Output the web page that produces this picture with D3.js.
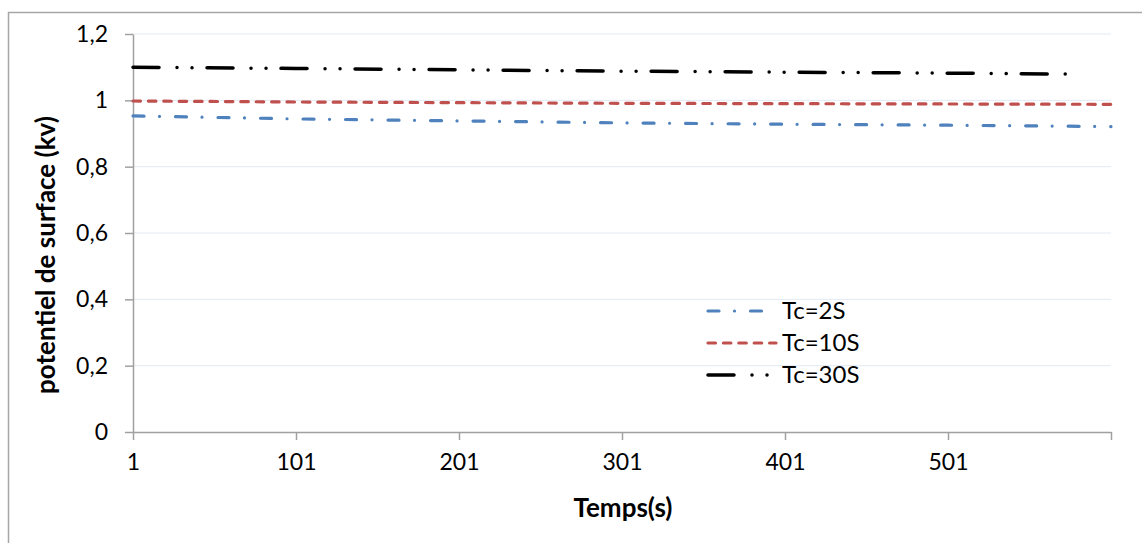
<!DOCTYPE html>
<html><head><meta charset="utf-8">
<script src="https://cdn.jsdelivr.net/npm/d3@7"></script>
<style>
html,body{margin:0;padding:0;background:#fff;}
text{font-family:Lato,"Open Sans",sans-serif;fill:#000;}
</style></head>
<body><svg id="c" width="1142" height="543"></svg>
<script>
// ---- data ----
const times = [1, 101, 201, 301, 401, 501, 601];
const tc2 = [0.953, 0.944, 0.938, 0.932, 0.928, 0.925, 0.921];
const tc10 = [0.998, 0.995, 0.993, 0.991, 0.990, 0.989, 0.988];
const times30 = [1, 101, 201, 301, 401, 501, 575];
const tc30 = [1.100, 1.096, 1.092, 1.088, 1.085, 1.082, 1.079];
const seriesNames = ["Tc=2S", "Tc=10S", "Tc=30S"];
const yTicks = [0, 0.2, 0.4, 0.6, 0.8, 1, 1.2];
const xTicks = [1, 101, 201, 301, 401, 501, 601];
const xTickLabels = ["1", "101", "201", "301", "401", "501", ""];

const svg = d3.select("#c");
const x = d3.scaleLinear().domain([1, 601]).range([133, 1111]);
const y = d3.scaleLinear().domain([0, 1.2]).range([432, 34]);

// outer frame
svg.append("rect").attr("x", 8.5).attr("y", 12.5).attr("width", 1300).attr("height", 700)
  .attr("fill", "none").attr("stroke", "#a6a6a6").attr("stroke-width", 1.5);

// gridlines
svg.append("g").selectAll("line").data(yTicks.filter(d => d > 0)).join("line")
  .attr("x1", x(1)).attr("x2", x(601)).attr("y1", d => y(d)).attr("y2", d => y(d))
  .attr("stroke", "#e3eaf4").attr("stroke-width", 1);

const fmtY = d => String(+d.toFixed(1)).replace(".", ",");

const gy = svg.append("g").attr("transform", `translate(${x(1)},0)`)
  .call(d3.axisLeft(y).tickValues(yTicks).tickFormat(fmtY).tickSize(8).tickSizeOuter(0).tickPadding(17));
const gx = svg.append("g").attr("transform", `translate(0,${y(0)})`)
  .call(d3.axisBottom(x).tickValues(xTicks).tickFormat((d, i) => xTickLabels[i]).tickSize(8).tickSizeOuter(0).tickPadding(14));
[gy, gx].forEach(g => {
  g.select(".domain").attr("stroke", "#a0a0a0").attr("stroke-width", 1.5);
  g.selectAll(".tick line").attr("stroke", "#a0a0a0").attr("stroke-width", 1.5);
  g.selectAll(".tick text").attr("font-size", 23).attr("font-family", "Lato").attr("fill", "#000");
});

const styles = [
  {color: "#4f81bd", width: 3.2, dash: "11,15.5,0.01,16"},
  {color: "#c0504d", width: 3.2, dash: "7.5,7.9"},
  {color: "#000000", width: 3.5, dash: "26,18,0.01,15,0.01,15"}
];
const series = [
  times.map((t, i) => [t, tc2[i]]),
  times.map((t, i) => [t, tc10[i]]),
  times30.map((t, i) => [t, tc30[i]])
];
const line = d3.line().x(d => x(d[0])).y(d => y(d[1]));
series.forEach((s, i) => {
  svg.append("path").attr("d", line(s)).attr("fill", "none")
    .attr("stroke", styles[i].color).attr("stroke-width", styles[i].width)
    .attr("stroke-dasharray", styles[i].dash).attr("stroke-linecap", "round");
});

// legend
const legY = [311, 343, 375];
seriesNames.forEach((n, i) => {
  svg.append("line").attr("x1", 708).attr("x2", 776).attr("y1", legY[i]).attr("y2", legY[i])
    .attr("stroke", styles[i].color).attr("stroke-width", styles[i].width)
    .attr("stroke-dasharray", styles[i].dash).attr("stroke-linecap", "round");
  svg.append("text").attr("x", 782).attr("y", legY[i]).attr("dy", "0.35em")
    .attr("font-size", 24).text(n);
});

// axis titles
svg.append("text").attr("x", 623).attr("y", 508).attr("dy", "0.35em").attr("text-anchor", "middle")
  .attr("font-size", 26).attr("font-weight", "bold").text("Temps(s)");
svg.append("text").attr("transform", "translate(46,255) rotate(-90)").attr("dy", "0.35em")
  .attr("text-anchor", "middle").attr("font-size", 26).attr("font-weight", "bold")
  .text("potentiel de surface (kv)");
</script></body></html>
